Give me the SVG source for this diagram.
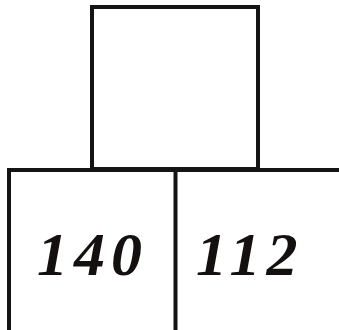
<svg xmlns="http://www.w3.org/2000/svg" width="339" height="330" viewBox="0 0 339 330">
<style>
.l{fill:none;stroke:#141414;stroke-width:4}
.t{font-family:"Liberation Serif",serif;font-weight:bold;font-style:italic;font-size:62px;fill:#141010;letter-spacing:6px}
</style>
<rect width="339" height="330" fill="#fff"/>
<g id="top"><rect class="l" x="92" y="7" width="166" height="162"/></g>
<g id="left"><path class="l" d="M9 330V170H175.5V330"/><text class="t" x="37" y="275">140</text></g>
<g id="right"><path class="l" d="M175.5 170H339"/><text class="t" x="196" y="275">112</text></g>
</svg>
